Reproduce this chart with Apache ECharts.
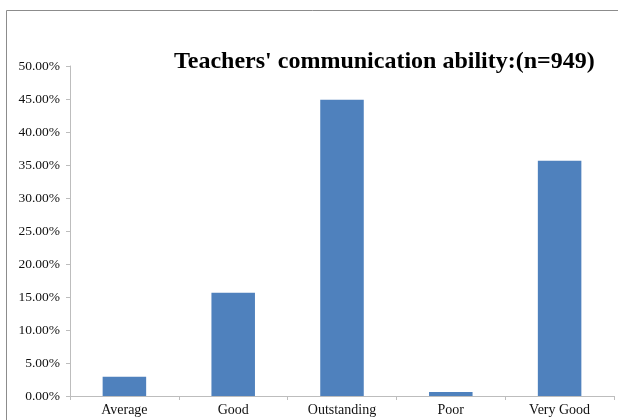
<!DOCTYPE html>
<html>
<head>
<meta charset="utf-8">
<script src="https://cdn.jsdelivr.net/npm/echarts@6/dist/echarts.min.js"></script>
<style>
  html, body { margin: 0; padding: 0; background: #fff; }
  #chart { width: 618px; height: 420px; }
</style>
</head>
<body>
<div id="chart"></div>
<script>
var categories = ['Average', 'Good', 'Outstanding', 'Poor', 'Very Good'];
var percents = [2.9, 15.65, 44.9, 0.6, 35.65];
var titleText = "Teachers' communication ability:(n=949)";

var chart = echarts.init(document.getElementById('chart'));
var option = {
    animation: false,
    backgroundColor: '#fff',
    graphic: [{
        type: 'rect',
        shape: { x: 6.5, y: 10.5, width: 700, height: 500 },
        style: { fill: 'none', stroke: '#8c8c8c', lineWidth: 1 },
        silent: true
    }],
    title: {
        text: titleText,
        left: 169,
        top: 45,
        textStyle: {
            fontFamily: 'Liberation Serif',
            fontWeight: 'bold',
            fontSize: 24,
            color: '#000'
        }
    },
    grid: { left: 70, right: 4, top: 66, bottom: 24 },
    xAxis: {
        type: 'category',
        data: categories,
        axisLine: { lineStyle: { color: '#bdbdbd' } },
        axisTick: { show: true, alignWithLabel: false, length: 4, lineStyle: { color: '#bdbdbd' } },
        axisLabel: {
            fontFamily: 'Liberation Serif',
            fontSize: 14,
            color: '#111',
            margin: 7
        }
    },
    yAxis: {
        type: 'value',
        min: 0,
        max: 50,
        interval: 5,
        axisLine: { show: true, lineStyle: { color: '#bdbdbd' } },
        axisTick: { show: true, length: 4, lineStyle: { color: '#bdbdbd' } },
        splitLine: { show: false },
        axisLabel: {
            fontFamily: 'Liberation Serif',
            fontSize: 13.5,
            color: '#111',
            margin: 10,
            formatter: function (v) { return v.toFixed(2) + '%'; }
        }
    },
    series: [{
        type: 'bar',
        data: percents,
        barCategoryGap: '60%',
        itemStyle: { color: '#4f81bd' }
    }]
};
chart.setOption(option);
</script>
</body>
</html>
